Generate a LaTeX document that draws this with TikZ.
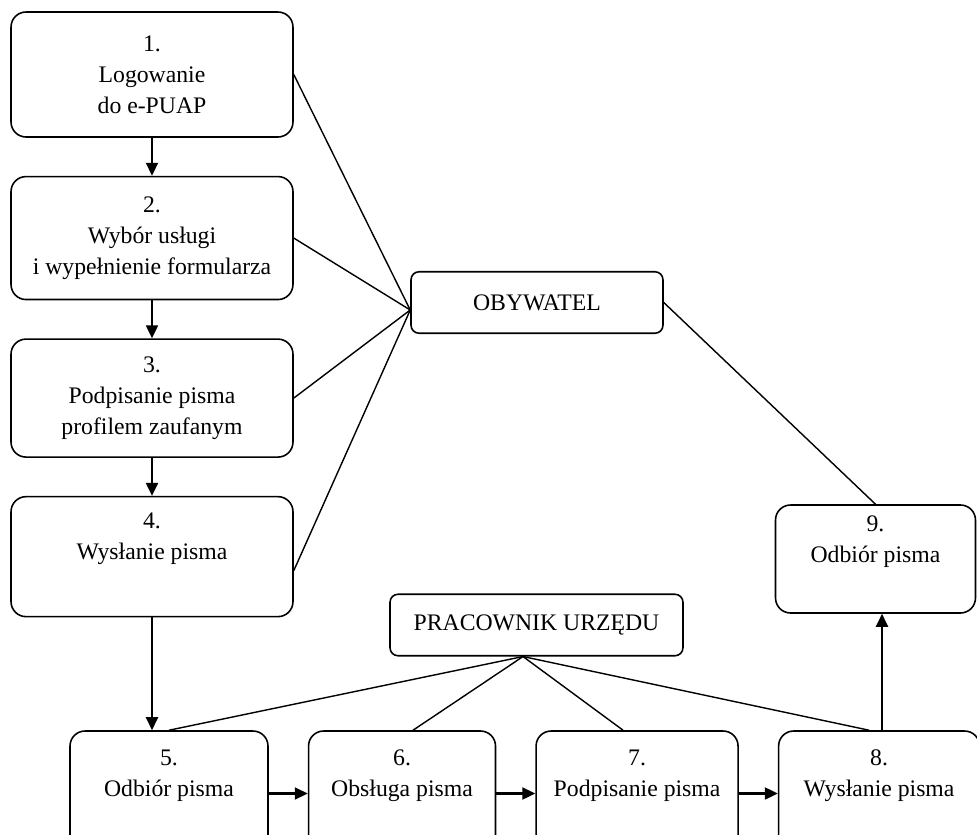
\documentclass[tikz,border=0pt]{standalone}
\usepackage{fontspec}
\setmainfont{Liberation Serif}
\usetikzlibrary{arrows.meta, positioning, calc}
\tikzset{
  box/.style={draw, line width=0.9pt, rounded corners=0.3cm, align=center, inner sep=2pt,
    font=\fontsize{13.5}{17.6}\selectfont, minimum width=#1},
  tag/.style={box=#1, rounded corners=0.16cm, minimum height=1.23cm},
  arr/.style={-{Triangle[length=2.6mm, width=2.4mm]}, line width=1.2pt},
  link/.style={line width=0.8pt},
}
\begin{document}
\begin{tikzpicture}[x=0.02cm, y=-0.02cm, node distance=0.76cm and 0.78cm]
  \useasboundingbox (0,0) rectangle (977,835);
  % citizen side
  \node[box=5.64cm, minimum height=2.5cm] (s1) at (152,74.5) {1.\\Logowanie\\do e-PUAP};
  \node[box=5.64cm, minimum height=2.46cm, below=of s1] (s2) {2.\\Wybór usługi\\i wypełnienie formularza};
  \node[box=5.64cm, minimum height=2.36cm, below=of s2] (s3) {3.\\Podpisanie pisma\\profilem zaufanym};
  \node[box=5.64cm, minimum height=2.4cm, below=of s3] (s4) {4.\\Wysłanie pisma\\\strut};
  \node[tag=5.04cm] (oby) at (537,302.5) {OBYWATEL};
  \node[box=4.0cm, minimum height=2.16cm] (s9) at (875.5,559) {9.\\Odbiór pisma\\\strut};
  % office side
  \node[tag=5.86cm] (prac) at (536.5,625) {PRACOWNIK URZĘDU};
  \node[box=3.96cm, minimum height=2.5cm] (s5) at (169,793.5) {5.\\Odbiór pisma\\\strut};
  \node[box=3.74cm, minimum height=2.5cm, right=of s5] (s6) {6.\\Obsługa pisma\\\strut};
  \node[box=4.04cm, minimum height=2.5cm, right=of s6] (s7) {7.\\Podpisanie pisma\\\strut};
  \node[box=4.02cm, minimum height=2.5cm, right=of s7] (s8) {8.\\Wysłanie pisma\\\strut};

  \foreach \a/\b in {s1/s2, s2/s3, s3/s4} \draw[arr] (\a.south) -- (\b.north);
  \draw[arr] (s4.south) -- (s4.south |- s5.north);
  \foreach \a/\b in {s5/s6, s6/s7, s7/s8} \draw[arr] (\a) -- (\b);
  \draw[arr] ([xshift=0.13cm]s9.south |- s8.north) -- ([xshift=0.13cm]s9.south);

  \coordinate (hub) at ([yshift=-0.15cm]oby.west);
  \foreach \s in {s1, s2, s3} \draw[link] (\s.east) -- (hub);
  \draw[link] ([yshift=-0.28cm]s4.east) -- (hub);
  \draw[link] (oby.east) -- (s9.north);

  \coordinate (foot) at ([xshift=-0.27cm]prac.south);
  \draw[link] (foot) -- (s5.north);
  \draw[link] (foot) -- ([xshift=0.22cm]s6.north);
  \draw[link] (foot) -- ([xshift=-0.28cm]s7.north);
  \draw[link] (foot) -- ([xshift=-0.2cm]s8.north);
\end{tikzpicture}
\end{document}
